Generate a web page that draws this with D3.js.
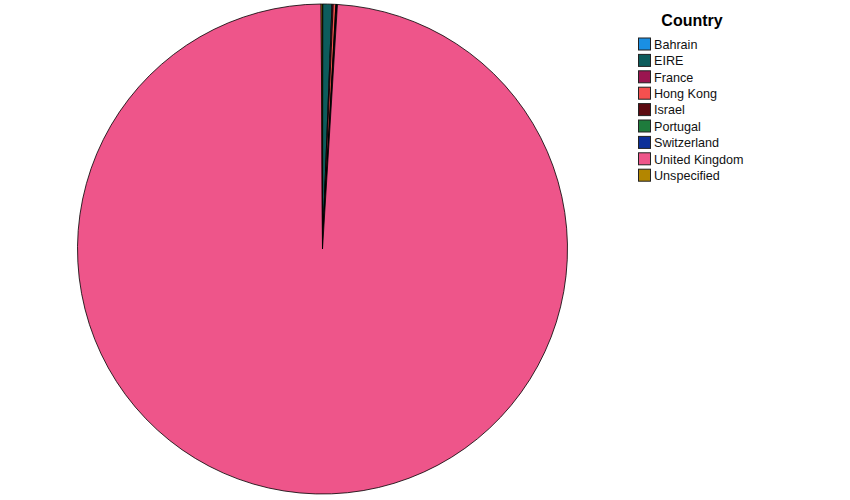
<!DOCTYPE html>
<html>
<head>
<meta charset="utf-8">
<script src="https://cdn.jsdelivr.net/npm/d3@7"></script>
<style>
  body { margin: 0; background: #fff; }
  text { font-family: "Liberation Sans", Arial, sans-serif; }
</style>
</head>
<body>
<div class="chart"></div>
<script>
// data (approximate counts)
const countries = ['Bahrain', 'EIRE', 'France', 'Hong Kong', 'Israel', 'Portugal', 'Switzerland', 'United Kingdom', 'Unspecified'];
const counts = [2, 60, 8, 17, 4, 3, 3, 9894, 9];
const colors = ['#1a8fe3', '#0d5c5c', '#9b1550', '#f5504f', '#5c0a10', '#1e7b3c', '#0b2f99', '#ee558a', '#b38600'];

const width = 850;
const height = 500;
const cx = 322.5;
const cy = 249;
const radius = 245;

const svg = d3.select('.chart').append('svg')
  .attr('width', width)
  .attr('height', height);

const color = d3.scaleOrdinal().domain(countries).range(colors);

const pie = d3.pie().sort(null).value((d, i) => counts[i]);
const arc = d3.arc().innerRadius(0).outerRadius(radius);

const g = svg.append('g')
  .attr('transform', `translate(${cx}, ${cy})`);

g.selectAll('.slice')
  .data(pie(countries))
  .enter().append('path')
  .attr('class', 'slice')
  .attr('d', arc)
  .attr('fill', (d) => color(d.data))
  .attr('stroke', '#000')
  .attr('stroke-width', 0.8)
  .attr('stroke-linejoin', 'round');

// legend
const legend = svg.append('g')
  .attr('transform', 'translate(638, 0)');

legend.append('text')
  .attr('x', 54)
  .attr('y', 26)
  .attr('text-anchor', 'middle')
  .attr('font-size', 16)
  .attr('font-weight', 'bold')
  .text('Country');

const row = d3.scaleBand().domain(countries).range([37.5, 37.5 + 16.4 * countries.length]);

const item = legend.selectAll('.item')
  .data(countries)
  .enter().append('g')
  .attr('class', 'item')
  .attr('transform', (d) => `translate(0, ${row(d)})`);

item.append('rect')
  .attr('x', 0.5)
  .attr('y', 0.5)
  .attr('width', 12)
  .attr('height', 12)
  .attr('fill', (d) => color(d))
  .attr('stroke', '#222')
  .attr('stroke-width', 1);

item.append('text')
  .attr('x', 16)
  .attr('y', 11.3)
  .attr('font-size', 12.6)
  .attr('fill', '#111')
  .text((d) => d);
</script>
</body>
</html>
